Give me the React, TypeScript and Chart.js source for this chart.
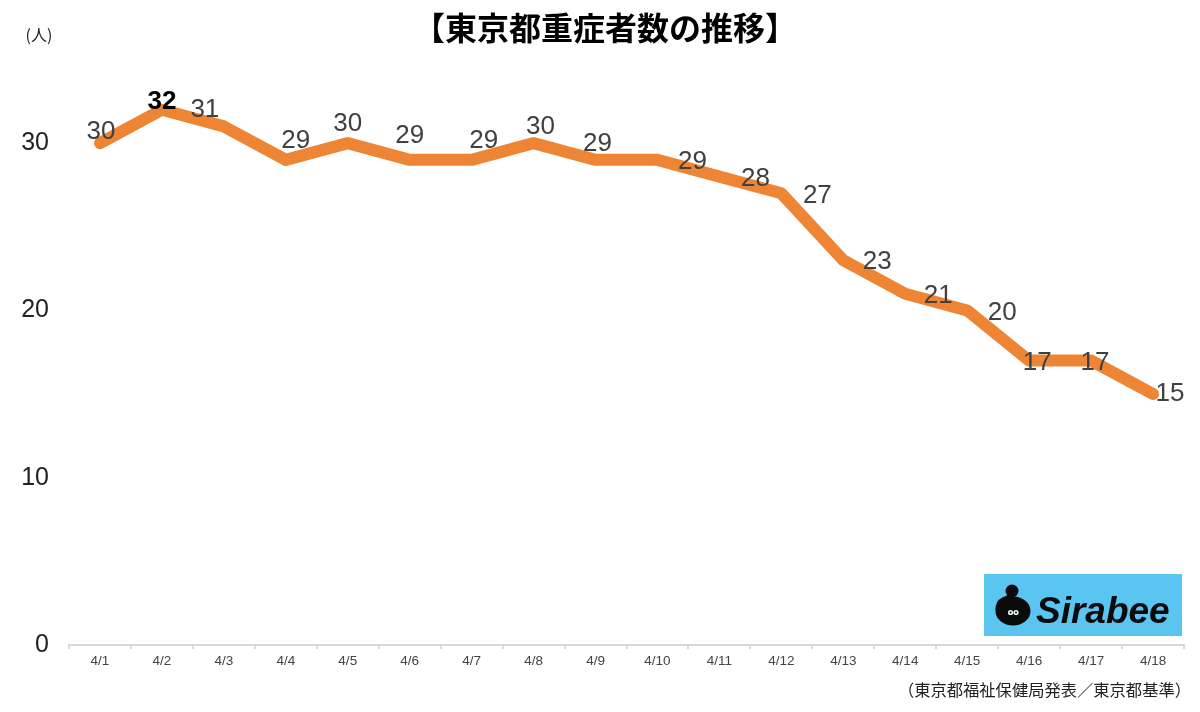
import React, { useEffect, useRef } from "react";
import { Chart, registerables } from "chart.js";

Chart.register(...registerables);

const categories = ["4/1","4/2","4/3","4/4","4/5","4/6","4/7","4/8","4/9","4/10","4/11","4/12","4/13","4/14","4/15","4/16","4/17","4/18"];
const severeCases = [30,32,31,29,30,29,29,30,29,29,28,27,23,21,20,17,17,15];
const yTicks = [0,10,20,30];
const titleText = "【東京都重症者数の推移】";
const unitText = "(人)";
const sourceText = "\uFF08東京都福祉保健局発表\uFF0F東京都基準\uFF09";
const logoText = "Sirabee";

const JP = '"Noto Sans CJK JP", "Noto Sans", sans-serif';
const NUM = '"Liberation Sans", Arial, sans-serif';

// label displacement from its point, as in the reference
const labelShift: [number, number][] = [
  [1,-11],[0,-8],[-19,-17],[10,-19],[0,-19],[0,-24],[12,-19],[7,-16],[2,-16],
  [35,2],[36,2],[36,2],[34,2],[33,2],[35,2],[8,2],[4,2],[17,0],
];

const overlay = {
  id: "overlay",
  afterDatasetsDraw(chart: any) {
    const { ctx } = chart;
    const pts = chart.getDatasetMeta(0).data;
    ctx.save();
    ctx.textAlign = "center";
    ctx.textBaseline = "middle";
    severeCases.forEach((v, i) => {
      const top = v === Math.max(...severeCases);
      ctx.font = `${top ? "bold " : ""}26px ${NUM}`;
      ctx.fillStyle = top ? "#000000" : "#404040";
      ctx.fillText(String(v), pts[i].x + labelShift[i][0], pts[i].y + labelShift[i][1]);
    });

    ctx.fillStyle = "#222222";
    ctx.font = `16px ${JP}`;
    ctx.fillText(unitText, 39, 35);
    ctx.font = `bold 32px ${JP}`;
    ctx.fillStyle = "#000000";
    ctx.fillText(titleText, 605, 28);
    ctx.font = `16.3px ${JP}`;
    ctx.fillStyle = "#222222";
    ctx.textAlign = "right";
    ctx.fillText(sourceText, 1191, 690);

    // logo badge
    ctx.fillStyle = "#5BC5F2";
    ctx.fillRect(984, 574, 198, 62);
    ctx.fillStyle = "#0B0B0B";
    ctx.beginPath();
    ctx.ellipse(1013, 611, 17.5, 14.5, 0, 0, Math.PI * 2);
    ctx.fill();
    ctx.beginPath();
    ctx.arc(1012, 591, 6.5, 0, Math.PI * 2);
    ctx.fill();
    ctx.strokeStyle = "#0B0B0B";
    ctx.lineWidth = 6;
    ctx.beginPath();
    ctx.moveTo(1012, 591);
    ctx.quadraticCurveTo(1013, 597, 1004, 600);
    ctx.quadraticCurveTo(998, 603, 998.5, 610);
    ctx.stroke();
    ctx.fillStyle = "#E8F4F8";
    ctx.beginPath();
    ctx.arc(1010.5, 612.5, 2.6, 0, Math.PI * 2);
    ctx.arc(1016, 612.5, 2.6, 0, Math.PI * 2);
    ctx.fill();
    ctx.fillStyle = "#0B0B0B";
    ctx.beginPath();
    ctx.arc(1010.5, 612.5, 1, 0, Math.PI * 2);
    ctx.arc(1016, 612.5, 1, 0, Math.PI * 2);
    ctx.fill();
    ctx.textAlign = "left";
    ctx.font = `italic bold 37px ${NUM}`;
    ctx.fillText(logoText, 1036, 613);
    ctx.restore();
  },
};

export default function App() {
  const ref = useRef<HTMLCanvasElement>(null);
  useEffect(() => {
    document.body.style.margin = "0";
    document.body.style.background = "#ffffff";
    const chart = new Chart(ref.current!, {
      type: "line",
      data: {
        labels: categories,
        datasets: [{
          data: severeCases,
          borderColor: "#ED8535",
          borderWidth: 12,
          borderCapStyle: "round",
          borderJoinStyle: "round",
          pointRadius: 0,
          tension: 0,
          fill: false,
        }],
      },
      options: {
        responsive: false,
        animation: false,
        devicePixelRatio: 1,
        layout: { padding: { top: 59.5, left: 0, right: 16, bottom: 0 } },
        plugins: { legend: { display: false }, title: { display: false }, tooltip: { enabled: false } },
        scales: {
          x: {
            offset: true,
            grid: { display: true, offset: true, drawOnChartArea: false, drawTicks: true, tickLength: 4, color: "#D9D9D9", lineWidth: 2 },
            border: { color: "#D9D9D9", width: 2 },
            ticks: { color: "#444444", font: { family: NUM, size: 13.5 }, padding: 4, maxRotation: 0, autoSkip: false },
            afterFit(s: any) { s.height = 67; },
          },
          y: {
            min: 0,
            max: 35,
            afterBuildTicks(s: any) { s.ticks = yTicks.map((value) => ({ value })); },
            grid: { display: false },
            border: { display: false },
            ticks: { color: "#222222", font: { family: NUM, size: 25 }, padding: 20 },
            afterFit(s: any) { s.width = 69; },
            afterUpdate(s: any) { s.options.ticks.padding = 12; },
          },
        },
      },
      plugins: [overlay],
    } as any);
    return () => chart.destroy();
  }, []);
  return <canvas ref={ref} width={1200} height={712} style={{ display: "block" }} />;
}
